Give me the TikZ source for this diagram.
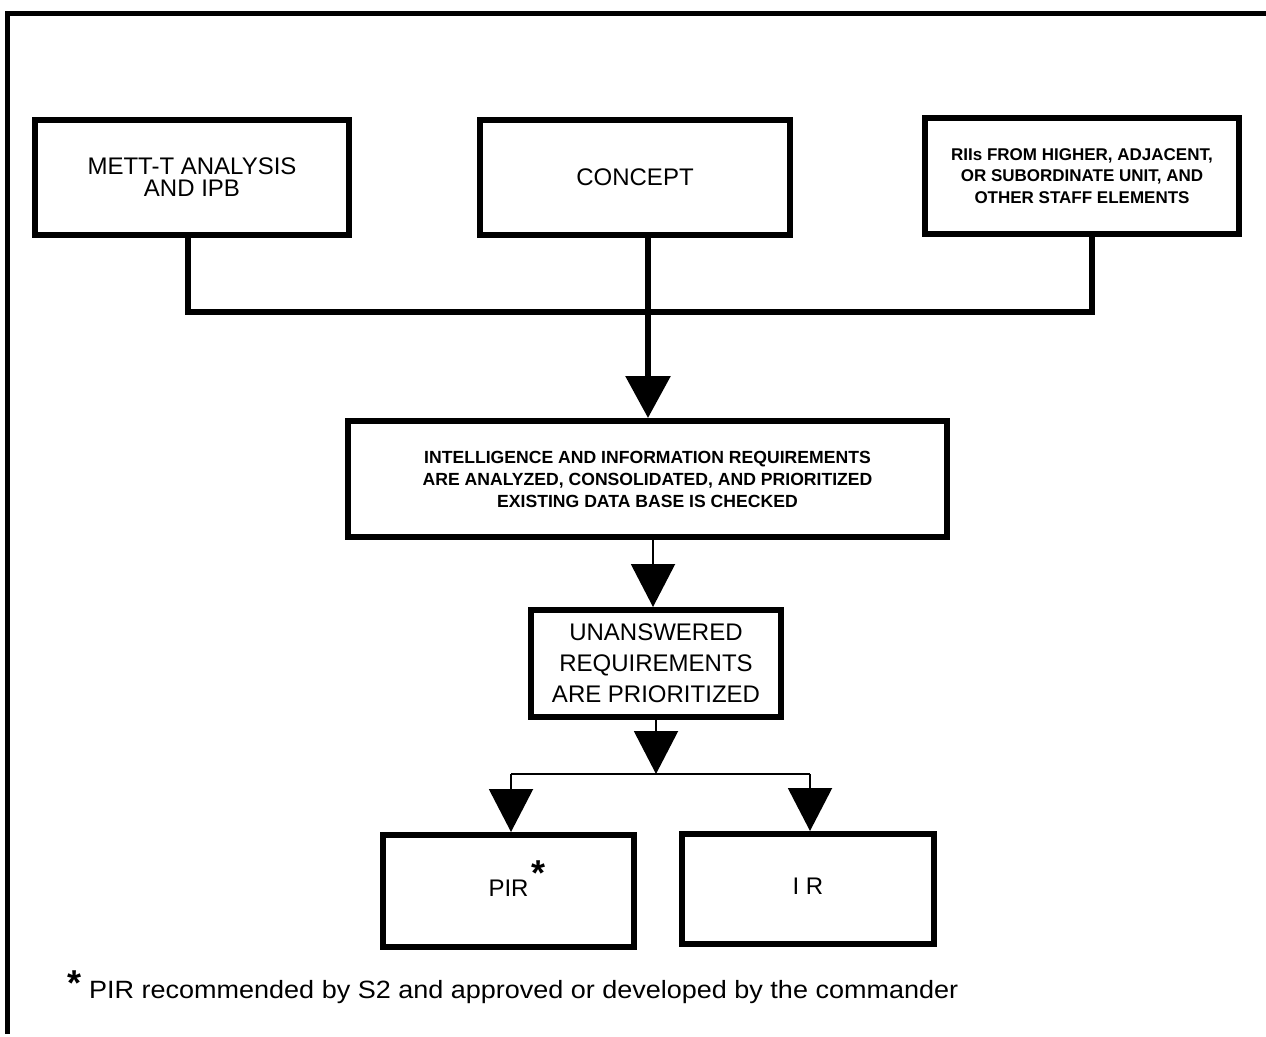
\documentclass[tikz,border=0pt]{standalone}
\usepackage{fontspec}
\setmainfont{Liberation Sans}
\usepackage{graphicx}
\usetikzlibrary{arrows.meta}

\begin{document}
\begin{tikzpicture}[x=1pt, y=-1pt,
  box/.style={draw, line width=6pt, rectangle, align=center, inner sep=0pt},
  bigtxt/.style={font=\fontsize{24}{22}\selectfont},
  midtxt/.style={font=\fontsize{24}{31}\selectfont},
  smallbold/.style={font=\bfseries\fontsize{17}{21.5}\selectfont},
  reqtxt/.style={font=\bfseries\fontsize{17.6}{22}\selectfont},
  busline/.style={line width=6pt},
  frame/.style={line width=5pt},
  thinline/.style={line width=1.8pt},
  fatarrow/.style={line width=6pt, -{Triangle[length=42pt,width=44pt]}},
  thinarrow/.style={line width=2pt, -{Triangle[length=43pt,width=44pt]}},
  starmark/.style={inner sep=0pt, anchor=base, font=\bfseries\fontsize{36}{36}\selectfont},
]
\useasboundingbox (0,0) rectangle (1266,1036);

% outer frame (top and left rules)
\draw[frame] (1266,13) -- (7,13) -- (7,1034);

% source boxes
\node[box, bigtxt, minimum width=314pt, minimum height=115pt] (mett) at (192,177.5)
  {METT-T ANALYSIS\\AND IPB};
\node[box, bigtxt, minimum width=310pt, minimum height=115pt] (concept) at (635,177.5)
  {CONCEPT};
\node[box, smallbold, minimum width=314pt, minimum height=116pt] (riis) at (1082,176)
  {RIIs FROM HIGHER, ADJACENT,\\OR SUBORDINATE UNIT, AND\\OTHER STAFF ELEMENTS};

% processing boxes
\node[box, reqtxt, minimum width=599pt, minimum height=116pt] (ia) at (647.5,479)
  {INTELLIGENCE AND INFORMATION REQUIREMENTS\\ARE ANALYZED, CONSOLIDATED, AND PRIORITIZED\\EXISTING DATA BASE IS CHECKED};
\node[box, midtxt, minimum width=250pt, minimum height=107pt] (un) at (656,663.5)
  {UNANSWERED\\REQUIREMENTS\\ARE PRIORITIZED};

% result boxes
\node[box, bigtxt, minimum width=251pt, minimum height=112pt, text depth=6pt] (pir) at (508.5,891) {PIR};
\node[box, bigtxt, minimum width=252pt, minimum height=110pt, text depth=6pt] (ir) at (808,889) {I R};
\node[starmark] (pirstar) at (538,885) {*};

% collecting bus
\coordinate (jL) at (188,312);
\coordinate (jC) at (648,312);
\coordinate (jR) at (1092,312);
\draw[busline] (mett.south -| jL) -- (jL) -- (jR) -- (riis.south -| jR);
\draw[fatarrow] (concept.south -| jC) -- (ia.north -| jC);

% downward flow
\coordinate (a2) at (653,0);
\draw[thinarrow] (ia.south -| a2) -- (un.north -| a2);

\coordinate (split) at (656,774);
\coordinate (sL) at (511,774);
\coordinate (sR) at (810,774);
\draw[thinarrow] (un.south) -- (split);
\draw[thinline] (sL) -- (sR);
\draw[thinarrow] (sL) -- (pir.north -| sL);
\draw[thinarrow] (sR) -- (ir.north -| sR);

% footnote
\node[starmark] (notestar) at (75,995) {*};
\node[anchor=base west, inner sep=0pt, font=\fontsize{25}{25}\selectfont] (note) at (89,998)
  {\scalebox{1.08}[1]{PIR recommended by S2 and approved or developed by the commander}};
\end{tikzpicture}
\end{document}
